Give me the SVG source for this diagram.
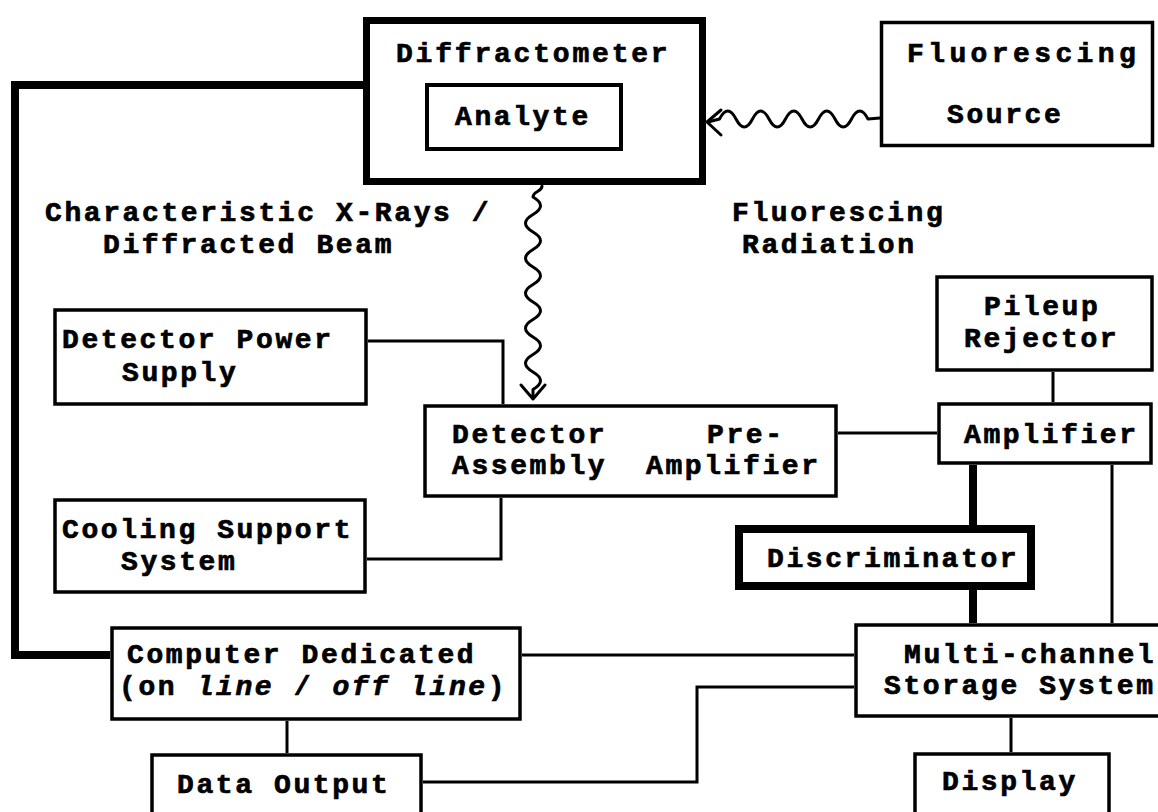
<svg xmlns="http://www.w3.org/2000/svg" width="1158" height="812" viewBox="0 0 1158 812">
<style>
.box{fill:#fff;stroke:#000;stroke-width:3.5}
.thick{fill:#fff;stroke:#000;stroke-width:8}
.ln{fill:none;stroke:#000;stroke-width:3;stroke-linejoin:miter}
.tl{fill:none;stroke:#000;stroke-width:8;stroke-linejoin:miter}
.wv{fill:none;stroke:#000;stroke-width:3;stroke-linecap:round;stroke-linejoin:round}
text{font-family:"Liberation Mono","Courier New",monospace;font-weight:bold;font-size:28px;letter-spacing:2.6px;fill:#000;stroke:#000;stroke-width:0.7}
.it{font-style:italic}
</style>
<rect width="1158" height="812" fill="#fff"/>
<g id="connectors">
<path class="tl" d="M363,85 H15 V655 H110"/>
<path class="ln" d="M368,341 H503 V404"/>
<path class="ln" d="M501,498 V559 H367"/>
<path class="ln" d="M838,433 H937"/>
<path class="ln" d="M1053,372 V402"/>
<path class="tl" d="M973,465 V525"/>
<path class="tl" d="M973,590 V623"/>
<path class="ln" d="M1112,465 V623"/>
<path class="ln" d="M522,655 H854"/>
<path class="ln" d="M423,782 H697 V687 H854"/>
<path class="ln" d="M287,721 V753"/>
<path class="ln" d="M1011,718 V752"/>
<path class="wv" d="M880,118 L868,119 q-8.25,-16 -16.5,0 t-16.5,0 t-16.5,0 t-16.5,0 t-16.5,0 t-16.5,0 t-16.5,0 t-16.5,0 t-16.5,0 L708,122"/>
<polyline class="wv" points="721,110 707,122 721,135"/>
<path class="wv" d="M542,186 c0,6 -9,5 -9,11 q15,8.75 0,17.5 t0,17.5 t0,17.5 t0,17.5 t0,17.5 t0,17.5 t0,17.5 t0,17.5 t0,17.5 t0,17.5 t0,17.5 L533,398"/>
<polyline class="wv" points="521,385 533,399 545,385"/>
</g>
<g id="diffractometer">
<rect class="thick" x="366.5" y="20.5" width="336" height="161" style="stroke-width:7"/>
<text x="396" y="62" style="letter-spacing:2.8px">Diffractometer</text>
</g>
<g id="analyte">
<rect class="box" x="427" y="85" width="194" height="64" style="stroke-width:4"/>
<text x="455" y="125">Analyte</text>
</g>
<g id="fluorescing-source">
<rect class="box" x="881.5" y="22.5" width="271" height="123"/>
<text x="907" y="62" style="letter-spacing:4.4px">Fluorescing</text>
<text x="947" y="123">Source</text>
</g>
<g id="label-xrays">
<text x="45" y="221">Characteristic X-Rays /</text>
<text x="103" y="253">Diffracted Beam</text>
</g>
<g id="label-fluorescing-radiation">
<text x="732" y="221">Fluorescing</text>
<text x="742" y="253">Radiation</text>
</g>
<g id="detector-power-supply">
<rect class="box" x="55" y="310" width="311" height="94"/>
<text x="62" y="348">Detector Power</text>
<text x="122" y="381">Supply</text>
</g>
<g id="detector-preamplifier">
<rect class="box" x="425" y="406" width="411" height="90"/>
<text x="452" y="443">Detector</text>
<text x="707" y="443">Pre-</text>
<text x="452" y="474">Assembly</text>
<text x="646" y="474">Amplifier</text>
</g>
<g id="pileup-rejector">
<rect class="box" x="937" y="277" width="215" height="93"/>
<text x="984" y="315">Pileup</text>
<text x="964" y="347">Rejector</text>
</g>
<g id="amplifier">
<rect class="box" x="939" y="404" width="212" height="59"/>
<text x="964" y="443">Amplifier</text>
</g>
<g id="cooling-support-system">
<rect class="box" x="55" y="500" width="310" height="92"/>
<text x="62" y="538">Cooling Support</text>
<text x="121" y="570">System</text>
</g>
<g id="discriminator">
<rect class="thick" x="739" y="529" width="292" height="57"/>
<text x="767" y="567">Discriminator</text>
</g>
<g id="computer-dedicated">
<rect class="box" x="112" y="628" width="408" height="91"/>
<text x="127" y="663">Computer Dedicated</text>
<text x="119" y="695">(on <tspan class="it">line</tspan> / <tspan class="it">off line</tspan>)</text>
</g>
<g id="multichannel-storage">
<rect class="box" x="856" y="625" width="320" height="91"/>
<text x="904" y="663">Multi-channel</text>
<text x="884" y="694">Storage System</text>
</g>
<g id="data-output">
<rect class="box" x="152" y="755" width="269" height="70"/>
<text x="177" y="793">Data Output</text>
</g>
<g id="display">
<rect class="box" x="915" y="754" width="194" height="70"/>
<text x="942" y="790">Display</text>
</g>
</svg>
